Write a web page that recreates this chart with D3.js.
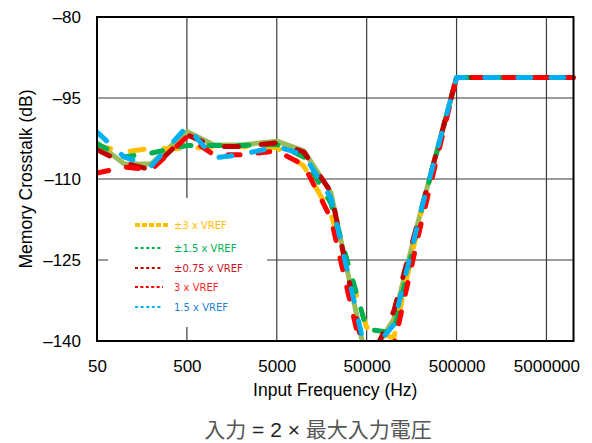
<!DOCTYPE html>
<html>
<head>
<meta charset="utf-8">
<script src="https://cdn.jsdelivr.net/npm/d3@7"></script>
<style>
  body { margin: 0; background: #fff; }
  svg { display: block; }
</style>
</head>
<body>
<svg></svg>
<script>
const width = 592;
const height = 443;
const plotLeft = 97, plotRight = 573.5, plotTop = 17, plotBottom = 341;

// frequencies (Hz) of the measured points
const freqs = [50, 100, 200, 500, 1000, 2000, 5000, 10000, 20000, 50000,
               100000, 200000, 500000, 1000000, 2000000, 5000000, 10000000];

// crosstalk (dB)
const baseLine = [-103.3, -107.2, -107.2, -101.2, -103.7, -103.7, -103.0, -104.8, -112.5, -144.0,
                  -136.0, -116.0, -91.2, -91.2, -91.2, -91.2, -91.2];
const pm3Vref = [-103.8, -105.0, -104.3, -104.4, -104.0, -104.0, -104.2, -107.6, -116.5, -137.5,
                 -139.5, -116.5, -91.2, -91.2, -91.2, -91.2, -91.2];
const pm15Vref = [-103.5, -105.9, -105.2, -103.8, -103.8, -103.8, -103.6, -105.9, -114.5, -137.8,
                  -138.5, -116.3, -91.2, -91.2, -91.2, -91.2, -91.2];
const pm075Vref = [-104.6, -107.0, -108.3, -101.8, -104.0, -104.0, -103.3, -105.0, -112.4, -145.0,
                   -134.5, -116.0, -91.2, -91.2, -91.2, -91.2, -91.2];
const x3Vref = [-108.9, -107.8, -108.3, -102.2, -105.5, -105.5, -104.8, -107.4, -117.3, -146.0,
                -141.0, -118.5, -91.2, -91.2, -91.2, -91.2, -91.2];
const x15Vref = [-101.3, -105.9, -107.6, -100.3, -106.1, -105.5, -104.0, -105.5, -113.5, -143.0,
                 -137.0, -116.0, -91.2, -91.2, -91.2, -91.2, -91.2];

const xTicks = [50, 500, 5000, 50000, 500000, 5000000];
const yTicks = [-140, -125, -110, -95, -80];

const series = [
  { name: "", values: baseLine, color: "#9BBB59", dash: null, legend: false },
  { name: "±3 x VREF", values: pm3Vref, color: "#FFC000", text: "#FFC000", dash: "14,20", legend: true, lw: 4, ld: "5,2" },
  { name: "±1.5 x VREF", values: pm15Vref, color: "#00B050", text: "#00B050", dash: "11,18", legend: true, lw: 2, ld: "3,2.6" },
  { name: "±0.75 x VREF", values: pm075Vref, color: "#C00000", text: "#C8141E", dash: "14,23", legend: true, lw: 2, ld: "3,2.6" },
  { name: "3 x VREF", values: x3Vref, color: "#FF0000", text: "#FF1E1E", dash: "12,18", legend: true, lw: 2, ld: "3,2.4" },
  { name: "1.5 x VREF", values: x15Vref, color: "#00B0F0", text: "#1F7FD6", dash: "13,20", legend: true, lw: 2, ld: "3,2.6" }
];

const svg = d3.select("svg")
  .attr("width", width)
  .attr("height", height);

const xScale = d3.scaleLog()
  .domain([50, 10000000])
  .range([plotLeft, plotRight]);

const yScale = d3.scaleLinear()
  .domain([-140, -80])
  .range([plotBottom, plotTop]);

// grid
svg.append("g")
  .selectAll("line")
  .data(xTicks.slice(1))
  .enter()
  .append("line")
    .attr("x1", d => xScale(d))
    .attr("x2", d => xScale(d))
    .attr("y1", plotTop)
    .attr("y2", plotBottom)
    .attr("stroke", "#3a3a3a")
    .attr("stroke-width", 1.2);

svg.append("g")
  .selectAll("line")
  .data(yTicks.slice(1, -1))
  .enter()
  .append("line")
    .attr("x1", plotLeft)
    .attr("x2", plotRight)
    .attr("y1", d => yScale(d))
    .attr("y2", d => yScale(d))
    .attr("stroke", "#3a3a3a")
    .attr("stroke-width", 1.2);

// legend box hides the grid behind it
svg.append("rect")
  .attr("x", 108)
  .attr("y", 198)
  .attr("width", 159)
  .attr("height", 129)
  .attr("fill", "#fff");

svg.append("clipPath")
  .attr("id", "plot-clip")
  .append("rect")
    .attr("x", plotLeft)
    .attr("y", 5)
    .attr("width", plotRight - plotLeft + 4)
    .attr("height", plotBottom - 5);

const line = d3.line()
  .x((d, i) => xScale(freqs[i]))
  .y(d => yScale(d));

svg.append("g")
  .attr("clip-path", "url(#plot-clip)")
  .selectAll("path")
  .data(series)
  .enter()
  .append("path")
    .attr("d", d => line(d.values))
    .attr("fill", "none")
    .attr("stroke", d => d.color)
    .attr("stroke-width", 5)
    .attr("stroke-linecap", d => d.dash ? "round" : "butt")
    .attr("stroke-linejoin", "round")
    .attr("stroke-dasharray", d => d.dash);

// frame
svg.append("rect")
  .attr("x", plotLeft)
  .attr("y", plotTop)
  .attr("width", plotRight - plotLeft)
  .attr("height", plotBottom - plotTop)
  .attr("fill", "none")
  .attr("stroke", "#000")
  .attr("stroke-width", 2);

// axes
const yAxis = d3.axisLeft(yScale)
  .tickValues(yTicks)
  .tickSize(0)
  .tickPadding(16)
  .tickFormat(d => "\u2013" + Math.abs(d));

const xAxis = d3.axisBottom(xScale)
  .tickValues(xTicks)
  .tickSize(0)
  .tickPadding(19)
  .tickFormat(d3.format("d"));

svg.append("g")
  .attr("transform", `translate(${plotLeft},0)`)
  .call(yAxis)
  .call(g => g.select(".domain").remove())
  .selectAll("text")
    .style("font-family", "'Liberation Sans', Arial, sans-serif")
    .style("font-size", "17px")
    .attr("fill", "#000");

svg.append("g")
  .attr("transform", `translate(0,${plotBottom})`)
  .call(xAxis)
  .call(g => g.select(".domain").remove())
  .selectAll("text")
    .style("font-family", "'Liberation Sans', Arial, sans-serif")
    .style("font-size", "17px")
    .attr("fill", "#000");

svg.append("text")
  .attr("transform", "rotate(-90)")
  .attr("x", -179)
  .attr("y", 32)
  .style("text-anchor", "middle")
  .style("font-family", "'Liberation Sans', Arial, sans-serif")
  .style("font-size", "17.5px")
  .text("Memory Crosstalk (dB)");

svg.append("text")
  .attr("x", (plotLeft + plotRight) / 2)
  .attr("y", 396)
  .style("text-anchor", "middle")
  .style("font-family", "'Liberation Sans', Arial, sans-serif")
  .style("font-size", "17.5px")
  .text("Input Frequency (Hz)");

// caption
const caption = svg.append("text")
  .attr("x", 318)
  .attr("y", 437)
  .style("text-anchor", "middle")
  .style("font-size", "21px");
caption.append("tspan")
  .style("font-family", "'Noto Sans CJK JP', sans-serif")
  .attr("fill", "#555")
  .text("入力");
caption.append("tspan")
  .style("font-family", "'Liberation Sans', Arial, sans-serif")
  .attr("fill", "#222")
  .text(" = 2 × ");
caption.append("tspan")
  .style("font-family", "'Noto Sans CJK JP', sans-serif")
  .attr("fill", "#555")
  .text("最大入力電圧");

// legend
const legendRows = [225, 248, 268, 287, 307];
const legendItems = series.filter(d => d.legend);

const legend = svg.append("g")
  .selectAll("g")
  .data(legendItems)
  .enter()
  .append("g")
    .attr("transform", (d, i) => `translate(0,${legendRows[i]})`);

legend.append("line")
  .attr("x1", 135)
  .attr("x2", (d, i) => i === 0 ? 169 : 163)
  .attr("stroke", d => d.color)
  .attr("stroke-width", d => d.lw)
  .attr("stroke-dasharray", d => d.ld);

legend.append("text")
  .attr("x", 174)
  .attr("dy", "0.35em")
  .style("font-family", "'DejaVu Sans', sans-serif")
  .style("font-size", "10px")
  .attr("fill", d => d.text)
  .text(d => d.name);
</script>
</body>
</html>
